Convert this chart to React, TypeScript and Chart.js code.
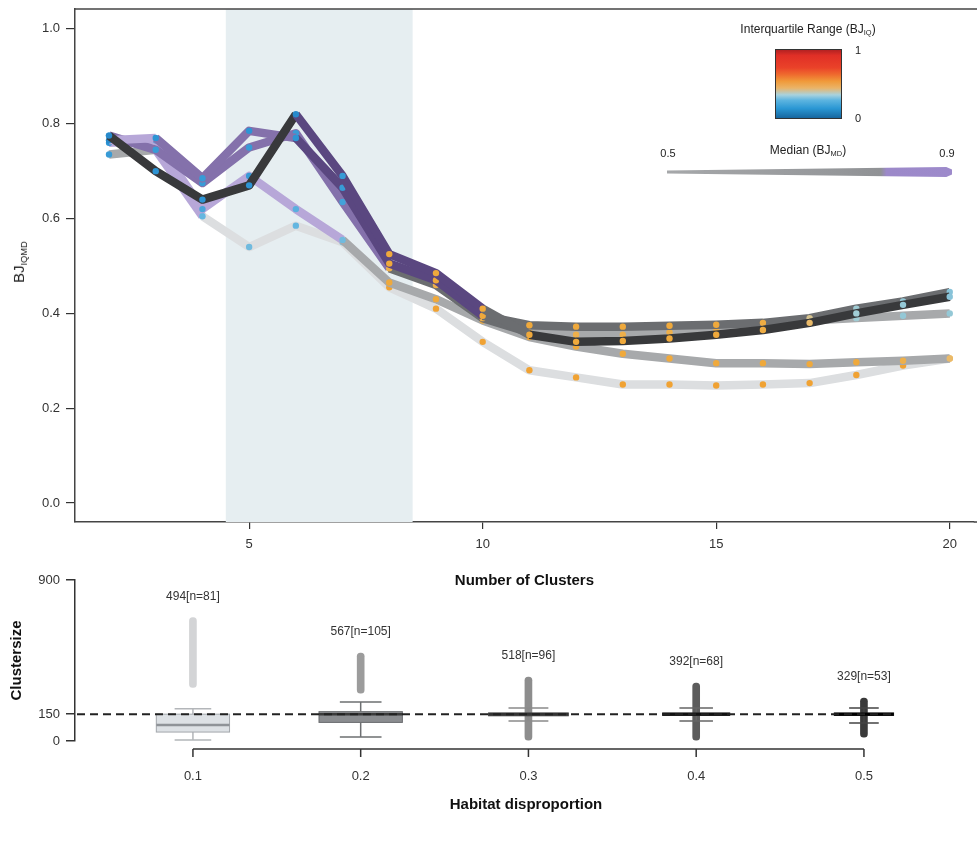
import React, { useEffect, useRef } from 'react';
import { Chart, registerables } from 'chart.js';
Chart.register(...registerables);

const FONT = '"Liberation Sans", Arial, Helvetica, sans-serif';

// ---------- top chart data ----------
const clusterCounts = [2, 3, 4, 5, 6, 7, 8, 9, 10, 11, 12, 13, 14, 15, 16, 17, 18, 19, 20];
const yTickValues = [0, 0.2, 0.4, 0.6, 0.8, 1.0];
const xTickValues = [5, 10, 15, 20];
const shadedClusters = [4.5, 8.5];

const seriesA = [0.775, 0.70, 0.64, 0.67, 0.82, 0.69, 0.525, 0.485, 0.41, 0.355, 0.34, 0.342, 0.347, 0.355, 0.365, 0.38, 0.40, 0.418, 0.435];
const seriesB = [0.765, 0.77, 0.685, 0.785, 0.77, 0.665, 0.505, 0.47, 0.395, 0.375, 0.372, 0.372, 0.374, 0.376, 0.38, 0.39, 0.41, 0.425, 0.445];
const seriesC = [0.775, 0.745, 0.675, 0.75, 0.78, 0.635, 0.495, 0.46, 0.39, 0.36, 0.355, 0.355, 0.36, 0.365, 0.375, 0.385, 0.39, 0.395, 0.40];
const seriesD = [0.76, 0.765, 0.62, 0.69, 0.62, 0.555, 0.465, 0.43, 0.385, 0.35, 0.33, 0.315, 0.305, 0.295, 0.295, 0.293, 0.297, 0.30, 0.305];
const seriesE = [0.735, 0.745, 0.605, 0.54, 0.585, 0.55, 0.455, 0.41, 0.34, 0.28, 0.265, 0.25, 0.25, 0.248, 0.25, 0.253, 0.27, 0.29, 0.305];

// segment tone (median class) for each segment
const toneA = ['k', 'k', 'k', 'k', 'dp', 'dp', 'dp', 'dp', 'dg', 'k', 'k', 'k', 'k', 'k', 'k', 'k', 'k', 'k'];
const toneB = ['lp', 'mp', 'mp', 'mp', 'dp', 'dp', 'dp', 'dp', 'dg', 'dg', 'dg', 'dg', 'dg', 'dg', 'dg', 'dg', 'dg', 'dg'];
const toneC = ['mp', 'mp', 'mp', 'mp', 'mp', 'mp', 'dg', 'dg', 'dg', 'mg', 'mg', 'mg', 'mg', 'mg', 'mg', 'mg', 'mg', 'mg'];
const toneD = ['lp', 'lp', 'lp', 'lp', 'lp', 'mg', 'mg', 'mg', 'mg', 'mg', 'mg', 'mg', 'mg', 'mg', 'mg', 'mg', 'mg', 'mg'];
const toneE = ['mg', 'lp', 'lg', 'lg', 'lg', 'lg', 'lg', 'lg', 'lg', 'lg', 'lg', 'lg', 'lg', 'lg', 'lg', 'lg', 'lg', 'lg'];

// interquartile range per point
const iqrA = [0.08, 0.1, 0.1, 0.1, 0.08, 0.12, 0.46, 0.46, 0.46, 0.46, 0.46, 0.46, 0.46, 0.46, 0.45, 0.4, 0.3, 0.28, 0.26];
const iqrB = [0.08, 0.1, 0.12, 0.1, 0.1, 0.12, 0.46, 0.46, 0.46, 0.46, 0.46, 0.46, 0.46, 0.46, 0.45, 0.36, 0.3, 0.28, 0.26];
const iqrC = [0.1, 0.12, 0.12, 0.12, 0.12, 0.14, 0.44, 0.44, 0.44, 0.44, 0.44, 0.44, 0.44, 0.44, 0.42, 0.34, 0.3, 0.28, 0.28];
const iqrD = [0.1, 0.12, 0.15, 0.12, 0.18, 0.22, 0.46, 0.46, 0.46, 0.46, 0.46, 0.46, 0.46, 0.46, 0.46, 0.46, 0.46, 0.44, 0.4];
const iqrE = [0.12, 0.14, 0.2, 0.22, 0.2, 0.26, 0.48, 0.48, 0.48, 0.48, 0.48, 0.48, 0.48, 0.48, 0.48, 0.48, 0.48, 0.48, 0.45];

// ---------- bottom chart data ----------
const habitatLevels = [0.1, 0.2, 0.3, 0.4, 0.5];
const groupN = [81, 105, 96, 68, 53];
const groupLabels = ['494[n=81]', '567[n=105]', '518[n=96]', '392[n=68]', '329[n=53]'];
const boxQ1 = [50, 104, 141, 143, 143];
const boxMedian = [89, 150, 150, 150, 150];
const boxQ3 = [150, 164, 157, 157, 157];
const whiskerLow = [5, 22, 112, 112, 100];
const whiskerHigh = [180, 218, 184, 184, 184];
const outlierLow = [300, 268, 5, 5, 22];
const outlierHigh = [690, 492, 358, 324, 240];
const clusterTickValues = [0, 150, 900];
const referenceSize = 150;

// ---------- styles ----------
const TONE: Record<string, string> = {
  lg: '#dcdee0',
  mg: '#a7a9ab',
  dg: '#6b6d70',
  k: '#38393b',
  dp: '#5a4780',
  mp: '#8471ab',
  lp: '#b7a7d8',
};
const IQR_STOPS: [number, number[]][] = [
  [0, [22, 100, 165]],
  [0.1, [45, 148, 212]],
  [0.2, [100, 182, 224]],
  [0.3, [160, 204, 212]],
  [0.38, [232, 192, 120]],
  [0.47, [240, 166, 52]],
  [0.6, [240, 110, 40]],
  [0.75, [232, 55, 38]],
  [1, [180, 30, 30]],
];
function iqrColor(v: number) {
  for (let i = 1; i < IQR_STOPS.length; i++) {
    const [t1, c1] = IQR_STOPS[i];
    const [t0, c0] = IQR_STOPS[i - 1];
    if (v <= t1) {
      const f = (v - t0) / (t1 - t0);
      const c = c0.map((a, k) => Math.round(a + (c1[k] - a) * f));
      return `rgb(${c[0]},${c[1]},${c[2]})`;
    }
  }
  return 'rgb(180,30,30)';
}
const BOX_FILL = ['#dde1e5', '#8b8d90', '#5a5a5a', '#2e2e2e', '#151515'];
const BOX_STROKE = ['#a3a7ac', '#696b6e', '#444444', '#222222', '#111111'];
const BOX_MEDIAN = ['#8f9398', '#3a3a3a', '#333333', '#111111', '#000000'];
const WHISKER = ['#b3b6b9', '#6e7072', '#8a8a8a', '#666666', '#444444'];
const OUTLIER = ['rgba(196,198,200,0.75)', '#9c9c9c', '#8d8d8d', '#5c5c5c', '#3a3a3a'];
const BOX_WIDTH_PER_SQRT_N = 0.00485;

const lines = [
  { values: seriesA, tone: toneA, iqr: iqrA },
  { values: seriesB, tone: toneB, iqr: iqrB },
  { values: seriesC, tone: toneC, iqr: iqrC },
  { values: seriesD, tone: toneD, iqr: iqrD },
  { values: seriesE, tone: toneE, iqr: iqrE },
];

const noPad = (s: any) => { s.paddingTop = 0; s.paddingBottom = 0; s.paddingLeft = 0; s.paddingRight = 0; };

const shadePlugin = {
  id: 'shade',
  beforeDatasetsDraw(chart: any) {
    const { ctx, chartArea, scales } = chart;
    const x0 = scales.x.getPixelForValue(shadedClusters[0]);
    const x1 = scales.x.getPixelForValue(shadedClusters[1]);
    ctx.save();
    ctx.fillStyle = '#e6eef1';
    ctx.fillRect(x0, chartArea.top, x1 - x0, chartArea.bottom - chartArea.top);
    ctx.restore();
  },
  afterDraw(chart: any) {
    const { ctx, chartArea } = chart;
    ctx.save();
    ctx.strokeStyle = '#444';
    ctx.lineWidth = 1.5;
    ctx.beginPath();
    ctx.moveTo(chartArea.left, chartArea.top);
    ctx.lineTo(chart.width, chartArea.top);
    ctx.stroke();
    ctx.beginPath();
    ctx.moveTo(chartArea.right, chartArea.bottom);
    ctx.lineTo(chart.width, chartArea.bottom);
    ctx.stroke();
    ctx.restore();
  },
};

const boxPlugin = {
  id: 'boxes',
  afterDatasetsDraw(chart: any) {
    const { ctx, chartArea, scales } = chart;
    const xs = scales.x;
    const ys = scales.y;
    ctx.save();
    habitatLevels.forEach((lvl, i) => {
      const w = BOX_WIDTH_PER_SQRT_N * Math.sqrt(groupN[i]);
      const xc = xs.getPixelForValue(lvl);
      const xl = xs.getPixelForValue(lvl - w / 2);
      const xr = xs.getPixelForValue(lvl + w / 2);
      const capL = xs.getPixelForValue(lvl - w / 4);
      const capR = xs.getPixelForValue(lvl + w / 4);
      const yq1 = ys.getPixelForValue(boxQ1[i]);
      const yq3 = ys.getPixelForValue(boxQ3[i]);
      const ymed = ys.getPixelForValue(boxMedian[i]);
      const ywl = ys.getPixelForValue(whiskerLow[i]);
      const ywh = ys.getPixelForValue(whiskerHigh[i]);
      ctx.strokeStyle = WHISKER[i];
      ctx.lineWidth = 1.5;
      ctx.beginPath();
      ctx.moveTo(xc, yq1); ctx.lineTo(xc, ywl);
      ctx.moveTo(xc, yq3); ctx.lineTo(xc, ywh);
      ctx.moveTo(capL, ywl); ctx.lineTo(capR, ywl);
      ctx.moveTo(capL, ywh); ctx.lineTo(capR, ywh);
      ctx.stroke();
      ctx.fillStyle = BOX_FILL[i];
      ctx.fillRect(xl, yq3, xr - xl, yq1 - yq3);
      ctx.strokeStyle = BOX_STROKE[i];
      ctx.lineWidth = 1;
      ctx.strokeRect(xl, yq3, xr - xl, yq1 - yq3);
      ctx.strokeStyle = BOX_MEDIAN[i];
      ctx.lineWidth = 2.5;
      ctx.beginPath();
      ctx.moveTo(xl, ymed); ctx.lineTo(xr, ymed);
      ctx.stroke();
      ctx.fillStyle = '#333';
      ctx.font = `12px ${FONT}`;
      ctx.textAlign = 'center';
      ctx.textBaseline = 'middle';
      ctx.fillText(groupLabels[i], xc, ys.getPixelForValue(outlierHigh[i]) - 21);
    });
    const lastW = BOX_WIDTH_PER_SQRT_N * Math.sqrt(groupN[groupN.length - 1]);
    const xEnd = xs.getPixelForValue(habitatLevels[habitatLevels.length - 1] + lastW / 2) + 2;
    const yRef = ys.getPixelForValue(referenceSize);
    ctx.strokeStyle = '#222';
    ctx.lineWidth = 2;
    ctx.setLineDash([8, 5]);
    ctx.beginPath();
    ctx.moveTo(chartArea.left + 2, yRef);
    ctx.lineTo(xEnd, yRef);
    ctx.stroke();
    ctx.setLineDash([]);
    const axY = chartArea.bottom + 8;
    const x0 = xs.getPixelForValue(habitatLevels[0]);
    const x1 = xs.getPixelForValue(habitatLevels[habitatLevels.length - 1]);
    ctx.strokeStyle = '#333';
    ctx.lineWidth = 1.5;
    ctx.beginPath();
    ctx.moveTo(x0, axY); ctx.lineTo(x1, axY);
    habitatLevels.forEach((lvl) => {
      const px = xs.getPixelForValue(lvl);
      ctx.moveTo(px, axY); ctx.lineTo(px, axY + 8);
    });
    ctx.stroke();
    ctx.restore();
  },
};

export default function App() {
  const topRef = useRef<HTMLCanvasElement>(null);
  const botRef = useRef<HTMLCanvasElement>(null);

  useEffect(() => {
    const top = new Chart(topRef.current as HTMLCanvasElement, {
      type: 'line',
      data: {
        datasets: lines.map((l) => ({
          data: clusterCounts.map((x, i) => ({ x, y: l.values[i] })),
          borderWidth: 8.5,
          borderColor: TONE[l.tone[0]],
          borderJoinStyle: 'round',
          segment: { borderColor: (c: any) => TONE[l.tone[c.p0DataIndex]] },
          pointRadius: 3.2,
          pointHoverRadius: 3.2,
          pointBorderWidth: 0,
          pointBackgroundColor: (c: any) => iqrColor(l.iqr[c.dataIndex]),
          tension: 0,
          fill: false,
        })),
      } as any,
      options: {
        animation: false,
        responsive: false,
        layout: { padding: { top: 9, left: 0, right: 0, bottom: 0 } },
        plugins: { legend: { display: false }, tooltip: { enabled: false } },
        scales: {
          x: {
            type: 'linear',
            min: 1.2714,
            max: 20.515,
            afterBuildTicks: (s: any) => { s.ticks = xTickValues.map((v) => ({ value: v })); },
            afterFit: (s: any) => { s.height = 78; noPad(s); },
            grid: { drawOnChartArea: false, drawTicks: true, tickLength: 7, color: '#333', lineWidth: 1.2 },
            border: { display: true, color: '#444', width: 1.5 },
            ticks: { color: '#333', font: { family: FONT, size: 13 }, padding: 8, maxRotation: 0 },
            title: {
              display: true, text: 'Number of Clusters', color: '#111',
              font: { family: FONT, size: 15, weight: 'bold' }, padding: { top: 0, bottom: 10 },
            },
          },
          y: {
            type: 'linear',
            min: -0.04,
            max: 1.042,
            afterBuildTicks: (s: any) => { s.ticks = yTickValues.map((v) => ({ value: v })); },
            afterFit: (s: any) => { s.width = 75; noPad(s); },
            grid: { drawOnChartArea: false, drawTicks: true, tickLength: 9, color: '#333', lineWidth: 1.2 },
            border: { display: true, color: '#444', width: 1.5 },
            ticks: { color: '#333', font: { family: FONT, size: 13 }, padding: 6, callback: (v: any) => Number(v).toFixed(1) },
          },
        },
      } as any,
      plugins: [shadePlugin],
    });

    const bot = new Chart(botRef.current as HTMLCanvasElement, {
      type: 'bar',
      data: {
        datasets: [{
          data: habitatLevels.map((x, i) => ({ x, y: [outlierLow[i], outlierHigh[i]] })),
          backgroundColor: OUTLIER,
          barThickness: 7,
          borderRadius: 4,
          borderSkipped: false,
          borderWidth: 0,
        }],
      } as any,
      options: {
        animation: false,
        responsive: false,
        layout: { padding: { top: 20, left: 0, right: 0, bottom: 0 } },
        plugins: { legend: { display: false }, tooltip: { enabled: false } },
        scales: {
          x: {
            type: 'linear',
            offset: false,
            min: 0.0297,
            max: 0.5674,
            afterBuildTicks: (s: any) => { s.ticks = habitatLevels.map((v) => ({ value: v })); },
            afterFit: (s: any) => { s.height = 100; },
            grid: { display: false, offset: false },
            border: { display: false },
            ticks: { color: '#333', font: { family: FONT, size: 13 }, padding: 20, maxRotation: 0, callback: (v: any) => Number(v).toFixed(1) },
            title: {
              display: true, text: 'Habitat disproportion', color: '#111',
              font: { family: FONT, size: 15, weight: 'bold' }, padding: { top: 0, bottom: 27 },
            },
          },
          y: {
            type: 'linear',
            min: 0,
            max: 900,
            afterBuildTicks: (s: any) => { s.ticks = clusterTickValues.map((v) => ({ value: v })); },
            afterFit: (s: any) => { s.width = 75; },
            grid: { drawOnChartArea: false, drawTicks: true, tickLength: 9, color: '#333', lineWidth: 1.5 },
            border: { display: true, color: '#333', width: 1.5 },
            ticks: { color: '#333', font: { family: FONT, size: 13 }, padding: 6 },
            title: {
              display: true, text: 'Clustersize', color: '#111',
              font: { family: FONT, size: 15, weight: 'bold' }, padding: { top: 8, bottom: 0 },
            },
          },
        },
      } as any,
      plugins: [boxPlugin],
    });

    return () => { top.destroy(); bot.destroy(); };
  }, []);

  const txt: React.CSSProperties = {
    position: 'absolute', transform: 'translate(-50%,-50%)', whiteSpace: 'nowrap',
    fontFamily: FONT, color: '#222', lineHeight: 1,
  };
  const sub: React.CSSProperties = { fontSize: '0.62em', verticalAlign: '-0.3em' };

  return (
    <div style={{ position: 'absolute', left: 0, top: 0, width: 977, height: 841, overflow: 'hidden', background: '#fff' }}>
      <canvas ref={topRef} width={977} height={600} style={{ position: 'absolute', left: 0, top: 0 }} />
      <canvas ref={botRef} width={977} height={281} style={{ position: 'absolute', left: 0, top: 560 }} />
      <div style={{ ...txt, left: 20, top: 262, fontSize: 15, transform: 'translate(-50%,-50%) rotate(-90deg)' }}>
        BJ<span style={sub}>IQMD</span>
      </div>
      <div style={{ ...txt, left: 808, top: 30, fontSize: 12 }}>
        Interquartile Range (BJ<span style={sub}>IQ</span>)
      </div>
      <div style={{
        position: 'absolute', left: 775, top: 49, width: 65, height: 68, border: '1px solid #333',
        background: 'linear-gradient(to bottom, #b32222 0%, #e02f26 8%, #ea4229 26%, #ef6a2e 36%, #f09a3a 46%, #eab468 56%, #a8d2de 66%, #5cb4e0 74%, #2a97d4 86%, #17679f 100%)',
      }} />
      <div style={{ ...txt, left: 858, top: 50, fontSize: 11 }}>1</div>
      <div style={{ ...txt, left: 858, top: 118, fontSize: 11 }}>0</div>
      <div style={{ ...txt, left: 808, top: 151, fontSize: 12 }}>
        Median (BJ<span style={sub}>MD</span>)
      </div>
      <div style={{ ...txt, left: 668, top: 153, fontSize: 11 }}>0.5</div>
      <div style={{ ...txt, left: 947, top: 153, fontSize: 11 }}>0.9</div>
      <div style={{
        position: 'absolute', left: 667, top: 167, width: 285, height: 10,
        clipPath: 'polygon(0 35%, 98% 0, 100% 25%, 100% 75%, 98% 100%, 0 65%)',
        background: 'linear-gradient(to right, #a6a8aa 0%, #95979a 60%, #909295 75%, #9c89c9 77%, #9d8acb 100%)',
      }} />
    </div>
  );
}
